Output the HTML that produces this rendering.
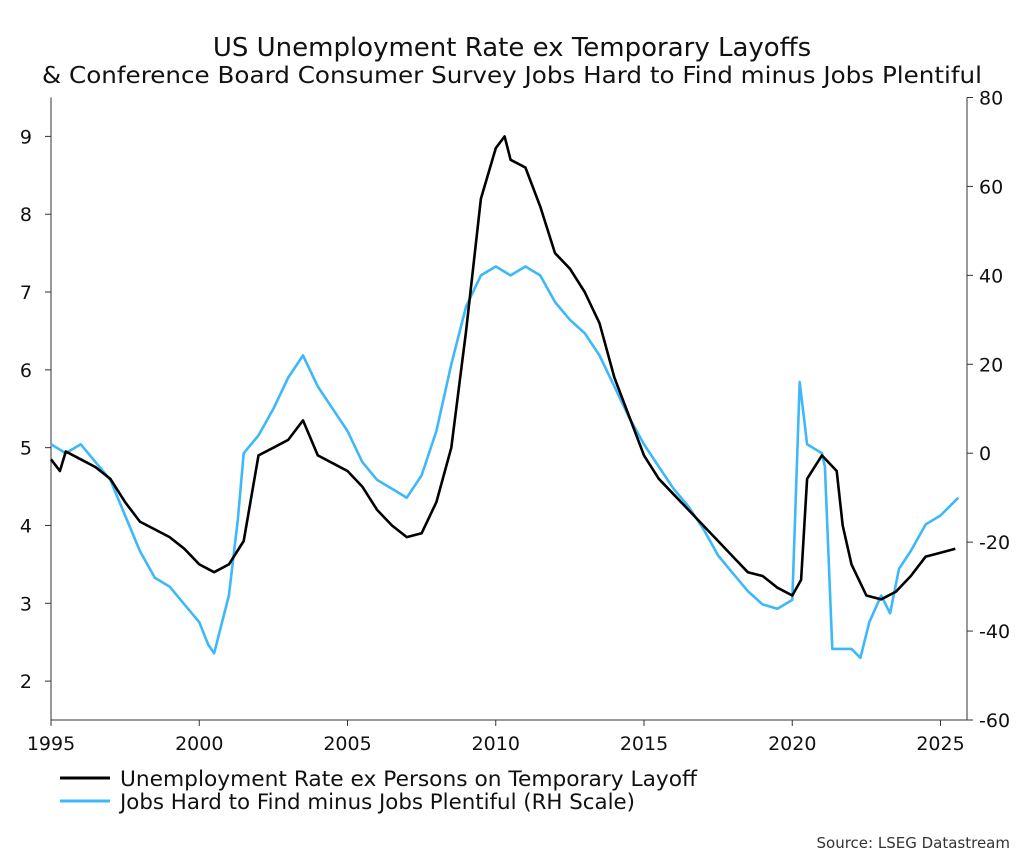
<!DOCTYPE html>
<html><head><meta charset="utf-8"><style>
body{margin:0;background:#fff;font-family:"DejaVu Sans","Liberation Sans",sans-serif;}
svg{display:block}
</style></head><body>
<svg width="1024" height="857" xmlns="http://www.w3.org/2000/svg">
<text x="512" y="56" text-anchor="middle" font-size="26" fill="#111">US Unemployment Rate ex Temporary Layoffs</text>
<text x="512" y="83" text-anchor="middle" font-size="23" fill="#111" textLength="940" lengthAdjust="spacingAndGlyphs">&amp; Conference Board Consumer Survey Jobs Hard to Find minus Jobs Plentiful</text>
<g id="axes"></g>
<g id="series"></g>
<g>
<line x1="60" y1="778" x2="110" y2="778" stroke="#000" stroke-width="3"/>
<text x="120" y="786" font-size="21" fill="#111" textLength="577" lengthAdjust="spacingAndGlyphs">Unemployment Rate ex Persons on Temporary Layoff</text>
<line x1="60" y1="801" x2="110" y2="801" stroke="#3db8fa" stroke-width="3"/>
<text x="120" y="809" font-size="21" fill="#111" textLength="515" lengthAdjust="spacingAndGlyphs">Jobs Hard to Find minus Jobs Plentiful (RH Scale)</text>
</g>
<text x="1010" y="848" text-anchor="end" font-size="15" fill="#333">Source: LSEG Datastream</text>
</svg>
<script>
const unrateYears=[1995,1995.3,1995.5,1996,1996.5,1997,1997.5,1998,1998.5,1999,1999.5,2000,2000.5,2001,2001.5,2002,2002.5,2003,2003.5,2004,2004.5,2005,2005.5,2006,2006.5,2007,2007.5,2008,2008.5,2009,2009.5,2010,2010.3,2010.5,2011,2011.5,2012,2012.5,2013,2013.5,2014,2014.5,2015,2015.5,2016,2016.5,2017,2017.5,2018,2018.5,2019,2019.5,2020,2020.3,2020.5,2021,2021.5,2021.7,2022,2022.5,2023,2023.5,2024,2024.5,2025,2025.5];
const unrateValues=[4.85,4.7,4.95,4.85,4.75,4.6,4.3,4.05,3.95,3.85,3.7,3.5,3.4,3.5,3.8,4.9,5.0,5.1,5.35,4.9,4.8,4.7,4.5,4.2,4.0,3.85,3.9,4.3,5.0,6.5,8.2,8.85,9.0,8.7,8.6,8.1,7.5,7.3,7.0,6.6,5.9,5.4,4.9,4.6,4.4,4.2,4.0,3.8,3.6,3.4,3.35,3.2,3.1,3.3,4.6,4.9,4.7,4.0,3.5,3.1,3.05,3.15,3.35,3.6,3.65,3.7];
const jobsYears=[1995,1995.5,1996,1996.5,1997,1997.5,1998,1998.5,1999,1999.5,2000,2000.3,2000.5,2001,2001.3,2001.5,2002,2002.5,2003,2003.5,2004,2004.5,2005,2005.5,2006,2006.5,2007,2007.5,2008,2008.5,2009,2009.5,2010,2010.5,2011,2011.5,2012,2012.5,2013,2013.5,2014,2014.5,2015,2015.5,2016,2016.5,2017,2017.5,2018,2018.5,2019,2019.5,2020,2020.25,2020.5,2021,2021.1,2021.35,2021.6,2022,2022.3,2022.6,2023,2023.3,2023.6,2024,2024.5,2025,2025.6];
const jobsValues=[2,0,2,-2,-6,-14,-22,-28,-30,-34,-38,-43,-45,-32,-15,0,4,10,17,22,15,10,5,-2,-6,-8,-10,-5,5,20,33,40,42,40,42,40,34,30,27,22,15,8,2,-3,-8,-12,-17,-23,-27,-31,-34,-35,-33,16,2,0,-3,-44,-44,-44,-46,-38,-32,-36,-26,-22,-16,-14,-10];
const leftTicks=[2,3,4,5,6,7,8,9];
const rightTicks=[-60,-40,-20,0,20,40,60,80];
const xTicks=[1995,2000,2005,2010,2015,2020,2025];
const X0=51,X1=967,Y0=97.5,Y1=720;
const xs=y=>51+(y-1995)*29.65;
const yl=v=>Y1-(v-1.5)/8*(Y1-Y0);
const yr=v=>Y1-(v+60)/140*(Y1-Y0);
const NS='http://www.w3.org/2000/svg';
const axes=document.getElementById('axes'),series=document.getElementById('series');
function mk(tag,attrs,parent){const e=document.createElementNS(NS,tag);for(const k in attrs)e.setAttribute(k,attrs[k]);parent.appendChild(e);return e;}
let e;
e=mk('line',{x1:X0,y1:Y0,x2:X0,y2:Y1,stroke:'#333','stroke-width':1},axes);


e=mk('line',{x1:X1,y1:Y0,x2:X1,y2:Y1,stroke:'#333','stroke-width':1},axes);


e=mk('line',{x1:X0,y1:Y1,x2:X1,y2:Y1,stroke:'#333','stroke-width':1},axes);


leftTicks.forEach(v=>{const y=yl(v);
 mk('line',{x1:X0-6,y1:y,x2:X0,y2:y,stroke:'#333'},axes);
 e=mk('text',{x:X0-19,y:y+7,'text-anchor':'end','font-size':19,fill:'#111'},axes);e.textContent=v;
 
 });
rightTicks.forEach(v=>{const y=yr(v);
 mk('line',{x1:X1,y1:y,x2:X1+6,y2:y,stroke:'#333'},axes);
 e=mk('text',{x:X1+12,y:y+7,'font-size':19,fill:'#111'},axes);e.textContent=v;
 
 });
xTicks.forEach(v=>{const x=xs(v);
 mk('line',{x1:x,y1:Y1,x2:x,y2:Y1+6,stroke:'#333'},axes);
 e=mk('text',{x:x,y:Y1+30,'text-anchor':'middle','font-size':19,fill:'#111'},axes);e.textContent=v;
 
 });
function pts(xsArr,vals,f){return xsArr.map((t,i)=>xs(t).toFixed(1)+','+f(vals[i]).toFixed(1)).join(' ');}
e=mk('polyline',{points:pts(jobsYears,jobsValues,yr),fill:'none',stroke:'#3db8fa','stroke-width':2.6,'stroke-linejoin':'round'},series);


e=mk('polyline',{points:pts(unrateYears,unrateValues,yl),fill:'none',stroke:'#000','stroke-width':2.6,'stroke-linejoin':'round'},series);


</script>
</body></html>
